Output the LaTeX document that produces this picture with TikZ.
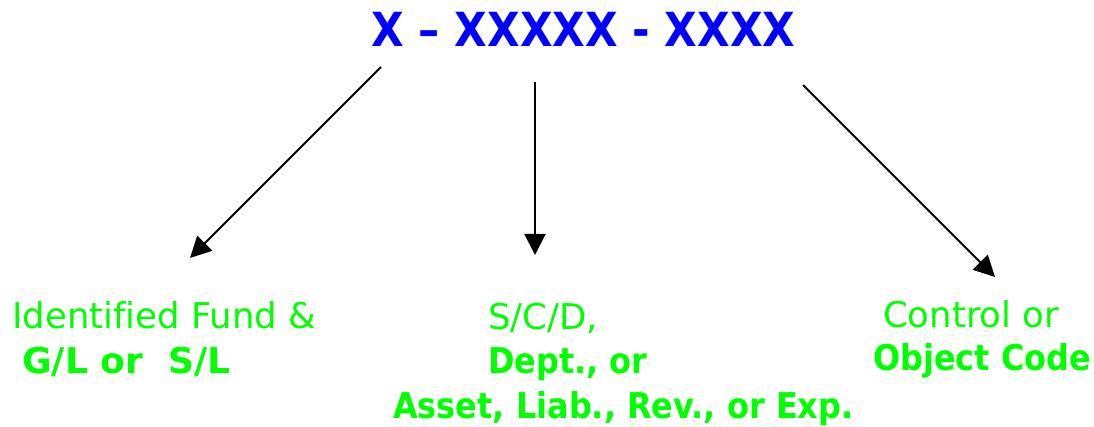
\documentclass[tikz,border=0pt]{standalone}
\usepackage{fontspec}
\setmainfont[Ligatures=NoCommon, BoldFeatures={FakeStretch=0.9}]{DejaVu Sans}
\usetikzlibrary{arrows.meta}
\definecolor{CodeBlue}{HTML}{0000FF}
\definecolor{PartGreen}{HTML}{00FF00}
\tikzset{
  codetxt/.style={anchor=base, inner sep=0pt, text=CodeBlue, font=\fontsize{47}{52}\selectfont\bfseries},
  parttxt/.style={anchor=base west, inner sep=0pt, text=PartGreen, font=\fontsize{35.5}{40}\selectfont},
  partbold/.style={parttxt, font=\fontsize{35.5}{40}\selectfont\bfseries},
  pointer/.style={line width=2pt, -{Triangle[length=21pt,width=21pt]}}
}
\begin{document}
\begin{tikzpicture}[x=1pt, y=-1pt]
 \useasboundingbox (0,0) rectangle (1094,427);

  %%%%%%%%%% Account code %%%%%%%%%%
 \node[codetxt] (code) at (583.5,47) {X -- XXXXX - XXXX};

  %%%%%%%%%% Points for the arrows %%%%%%%%%%
 \coordinate (s1) at (381,67);
 \coordinate (e1) at (190,258);
 \coordinate (s2) at (535,82);
 \coordinate (e2) at (535,255);
 \coordinate (s3) at (803,85);
 \coordinate (e3) at (995,277);

 \draw [pointer] (s1) -- (e1) ;
 \draw [pointer] (s2) -- (e2) ;
 \draw [pointer] (s3) -- (e3) ;

  %%%%%%%%%% Parts of the code %%%%%%%%%%
 \node[parttxt]  (fund)   at (12,328)  {Identified Fund \&};
 \node[partbold] (gl)     at (22,373)  {\scalebox{1.13}[1]{G/L or\ \ S/L}};

 \node[parttxt]  (scd)    at (488,330) {S/C/D,};
 \node[partbold] (dept)   at (488,373) {Dept., or};
 \node[partbold] (asset)  at (393,418) {Asset, Liab., Rev., or Exp.};

 \node[parttxt]  (ctrl)   at (883,327) {Control or};
 \node[partbold] (object) at (873,370) {Object Code};

\end{tikzpicture}
\end{document}
